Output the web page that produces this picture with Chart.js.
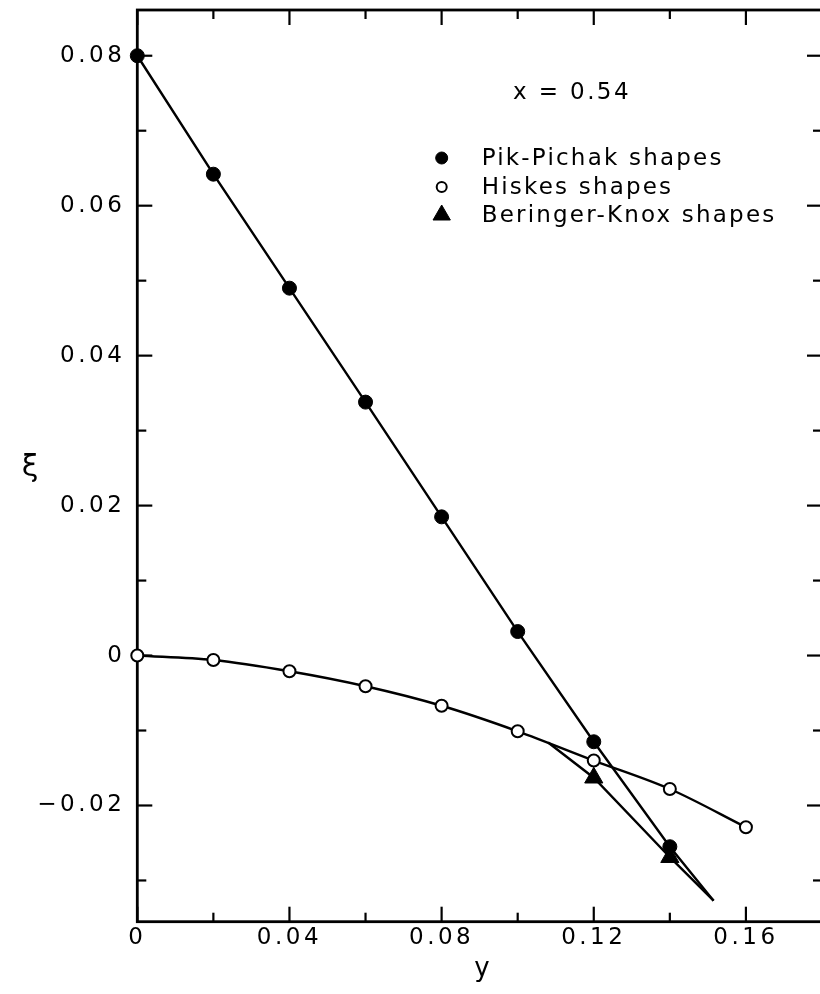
<!DOCTYPE html>
<html>
<head>
<meta charset="utf-8">
<script src="https://cdn.jsdelivr.net/npm/chart.js"></script>
<style>
  html, body { margin: 0; padding: 0; background: #fff; overflow: hidden; }
  canvas { display: block; }
</style>
</head>
<body>
<canvas id="chart" width="830" height="994"></canvas>
<script>
// ξ as a function of y at fixed x = 0.54 for three families of shapes
const pikY  = [0, 0.02, 0.04, 0.06, 0.08, 0.10, 0.12, 0.14, 0.1515];
const pikXi = [0.080, 0.0642, 0.0490, 0.0338, 0.0185, 0.0032, -0.0115, -0.0255, -0.0327];
const pikMarked = [1, 1, 1, 1, 1, 1, 1, 1, 0];

const hisY  = [0, 0.02, 0.04, 0.06, 0.08, 0.10, 0.12, 0.14, 0.16];
const hisXi = [0, -0.0006, -0.0021, -0.0041, -0.0067, -0.0101, -0.0140, -0.0178, -0.0229];

const bkY   = [0.108, 0.12, 0.14, 0.1515];
const bkXi  = [-0.0116, -0.0163, -0.0269, -0.0327];
const bkMarked = [0, 1, 1, 0];

const xMajor = [0, 0.04, 0.08, 0.12, 0.16];
const xMinor = [0.02, 0.06, 0.10, 0.14];
const yMajor = [-0.02, 0, 0.02, 0.04, 0.06, 0.08];
const yMinor = [-0.03, -0.01, 0.01, 0.03, 0.05, 0.07];

const seriesNames = ['Pik-Pichak shapes', 'Hiskes shapes', 'Beringer-Knox shapes'];
const annotationText = 'x = 0.54';
const xTitle = 'y';
const yTitle = 'ξ';

const FONT = '"DejaVu Sans", sans-serif';
const INK = '#000';

const pts = (xs, ys) => xs.map((v, i) => ({ x: v, y: ys[i] }));
const fmt = v => {
  if (Math.abs(v) < 1e-9) return '0';
  return (v < 0 ? '\u2212' : '') + Math.abs(v).toFixed(2);
};

const markers = [
  { style: 'circle', radius: 7, fill: INK, stroke: INK, width: 1 },
  { style: 'circle', radius: 6, fill: '#fff', stroke: INK, width: 2 },
  { style: 'triangle', radius: 10.5, fill: INK, stroke: INK, width: 1 }
];
const legendMarkers = [
  { style: 'circle', radius: 6, fill: INK, stroke: INK, width: 1 },
  { style: 'circle', radius: 5, fill: '#fff', stroke: INK, width: 2 },
  { style: 'triangle', radius: 10, fill: INK, stroke: INK, width: 1 }
];

function drawMarker(ctx, m, x, y) {
  ctx.save();
  ctx.fillStyle = m.fill;
  ctx.strokeStyle = m.stroke;
  ctx.lineWidth = m.width;
  ctx.beginPath();
  if (m.style === 'triangle') {
    for (let k = 0; k < 3; k++) {
      const a = k * 2 * Math.PI / 3;
      const px = x + Math.sin(a) * m.radius;
      const py = y - Math.cos(a) * m.radius;
      if (k === 0) ctx.moveTo(px, py); else ctx.lineTo(px, py);
    }
    ctx.closePath();
  } else {
    ctx.arc(x, y, m.radius, 0, Math.PI * 2);
  }
  ctx.fill();
  ctx.stroke();
  ctx.restore();
}

// frame, inward ticks on all four sides, legend and free text
const decorations = {
  id: 'decorations',
  beforeDraw(chart) {
    chart.ctx.letterSpacing = '3.5px';
  },
  beforeDatasetsDraw(chart) {
    const { ctx, chartArea: a, scales: { x, y } } = chart;
    ctx.save();
    ctx.strokeStyle = INK;
    ctx.lineWidth = 2.8;
    ctx.strokeRect(a.left, a.top, a.right - a.left, a.bottom - a.top);
    ctx.lineWidth = 2.2;
    const seg = (x1, y1, x2, y2) => { ctx.beginPath(); ctx.moveTo(x1, y1); ctx.lineTo(x2, y2); ctx.stroke(); };
    const xt = (vals, len) => vals.forEach(v => {
      const p = x.getPixelForValue(v);
      seg(p, a.bottom, p, a.bottom - len);
      seg(p, a.top, p, a.top + len);
    });
    const yt = (vals, len) => vals.forEach(v => {
      const p = y.getPixelForValue(v);
      seg(a.left, p, a.left + len, p);
      seg(a.right, p, a.right - len, p);
    });
    xt(xMajor, 15); xt(xMinor, 9);
    yt(yMajor, 15); yt(yMinor, 9);
    ctx.restore();
  },
  afterDraw(chart) {
    const ctx = chart.ctx;
    ctx.save();
    ctx.fillStyle = INK;
    ctx.textBaseline = 'middle';
    ctx.textAlign = 'left';
    ctx.letterSpacing = '2.4px';
    ctx.font = '23px ' + FONT;
    ctx.fillText(annotationText, 513, 93);

    const rows = [158, 187, 215];
    seriesNames.forEach((name, i) => {
      drawMarker(ctx, legendMarkers[i], 441.7, rows[i]);
      ctx.letterSpacing = '2.2px';
      ctx.fillText(name, 481.7, rows[i] + 1);
    });

    ctx.letterSpacing = '0px';
    ctx.textAlign = 'center';
    ctx.textBaseline = 'alphabetic';
    ctx.font = '26px ' + FONT;
    ctx.fillText(xTitle, 482, 976);
    ctx.font = '30px ' + FONT;
    ctx.textBaseline = 'middle';
    ctx.fillText(yTitle, 30, 468);
    ctx.restore();
  }
};

const tickFont = { family: FONT, size: 23 };

new Chart(document.getElementById('chart'), {
  type: 'scatter',
  data: {
    datasets: [
      {
        label: seriesNames[0],
        data: pts(pikY, pikXi),
        showLine: true,
        tension: 0,
        borderColor: INK,
        borderWidth: 2.4,
        pointStyle: markers[0].style,
        pointRadius: pikMarked.map(m => m ? markers[0].radius : 0),
        pointBackgroundColor: markers[0].fill,
        pointBorderColor: markers[0].stroke,
        pointBorderWidth: markers[0].width,
        clip: false
      },
      {
        label: seriesNames[1],
        data: pts(hisY, hisXi),
        showLine: true,
        cubicInterpolationMode: 'monotone',
        borderColor: INK,
        borderWidth: 2.4,
        pointStyle: markers[1].style,
        pointRadius: markers[1].radius,
        pointBackgroundColor: markers[1].fill,
        pointBorderColor: markers[1].stroke,
        pointBorderWidth: markers[1].width,
        clip: false
      },
      {
        label: seriesNames[2],
        data: pts(bkY, bkXi),
        showLine: true,
        tension: 0,
        borderColor: INK,
        borderWidth: 2.4,
        pointStyle: markers[2].style,
        pointRadius: bkMarked.map(m => m ? markers[2].radius : 0),
        pointBackgroundColor: markers[2].fill,
        pointBorderColor: markers[2].stroke,
        pointBorderWidth: markers[2].width,
        clip: false
      }
    ]
  },
  options: {
    responsive: false,
    animation: false,
    devicePixelRatio: 1,
    events: [],
    layout: { padding: { top: 10, right: 3.3, left: 0, bottom: 0 } },
    plugins: {
      legend: { display: false },
      tooltip: { enabled: false }
    },
    scales: {
      x: {
        type: 'linear',
        position: 'bottom',
        min: 0,
        max: 0.18,
        grid: { display: false, drawTicks: false },
        border: { display: false },
        ticks: {
          autoSkip: false,
          maxRotation: 0,
          padding: 3,
          color: INK,
          font: tickFont,
          callback: v => fmt(v)
        },
        afterBuildTicks: s => { s.ticks = xMajor.map(v => ({ value: v })); },
        afterFit: s => {
          s.height = 72.3;
          s.paddingLeft = 0; s.paddingRight = 0;
        }
      },
      y: {
        type: 'linear',
        position: 'left',
        min: -0.0355,
        max: 0.0861,
        grid: { display: false, drawTicks: false },
        border: { display: false },
        ticks: {
          autoSkip: false,
          padding: 12,
          color: INK,
          font: tickFont,
          callback: v => fmt(v)
        },
        afterBuildTicks: s => { s.ticks = yMajor.map(v => ({ value: v })); },
        afterFit: s => {
          s.width = 137.3;
          s.paddingTop = 0; s.paddingBottom = 0;
        }
      }
    }
  },
  plugins: [decorations]
});
</script>
</body>
</html>
